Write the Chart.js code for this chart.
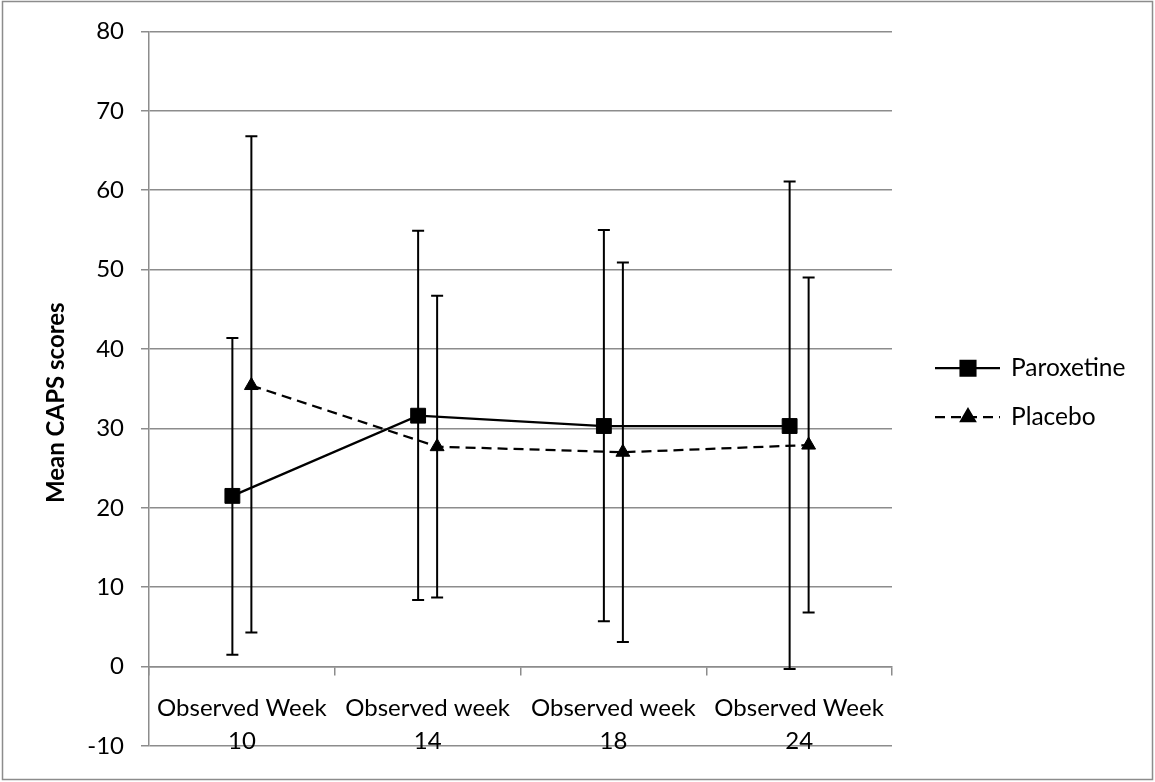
<!DOCTYPE html>
<html>
<head>
<meta charset="utf-8">
<script src="https://cdn.jsdelivr.net/npm/chart.js@4.4.0/dist/chart.umd.min.js"></script>
<style>
    html, body { margin: 0; padding: 0; background: #fff; }
    #wrap { width: 1155px; height: 782px; }
</style>
</head>
<body>
<div id="wrap"><canvas id="capsChart" width="1155" height="782"></canvas></div>
<script>
// Values
const weekLabels = [['Observed Week', '10'], ['Observed week', '14'], ['Observed week', '18'], ['Observed Week', '24']];
const paroxetineMean = [21.5, 31.6, 30.3, 30.3];
const paroxetineHigh = [41.4, 54.9, 55.0, 61.1];
const paroxetineLow = [1.5, 8.4, 5.7, -0.3];
const placeboMean = [35.4, 27.7, 27.0, 27.9];
const placeboHigh = [66.8, 46.7, 50.9, 49.0];
const placeboLow = [4.3, 8.7, 3.1, 6.8];
const yMin = -10;
const yMax = 80;
const yStep = 10;
const yTitle = 'Mean CAPS scores';

const gridGray = '#8c8c8c';
Chart.defaults.font.family = 'Lato, "Noto Sans", sans-serif';
Chart.defaults.color = '#000';

// white background + outer frame
const frame = {
    id: 'frame',
    beforeDraw(chart) {
        const ctx = chart.ctx;
        ctx.save();
        ctx.fillStyle = '#fff';
        ctx.fillRect(0, 0, chart.width, chart.height);
        ctx.strokeStyle = gridGray;
        ctx.lineWidth = 1.5;
        ctx.strokeRect(2.5, 1.5, chart.width - 5, chart.height - 4);
        ctx.restore();
    }
};

// nudge each series sideways inside its category (Excel style)
const sideShift = {
    id: 'sideShift',
    afterDatasetUpdate(chart, args) {
        const ds = chart.data.datasets[args.index];
        args.meta.data.forEach(pt => { pt.x += ds.xShift || 0; });
    }
};

// vertical error bars with caps
const errorBars = {
    id: 'errorBars',
    beforeDatasetsDraw(chart) {
        const ctx = chart.ctx;
        const yScale = chart.scales.y;
        ctx.save();
        ctx.strokeStyle = '#000';
        ctx.lineWidth = 2;
        chart.data.datasets.forEach((ds, i) => {
            const meta = chart.getDatasetMeta(i);
            meta.data.forEach((pt, j) => {
                const x = pt.x;
                const yHi = yScale.getPixelForValue(ds.errHigh[j]);
                const yLo = yScale.getPixelForValue(ds.errLow[j]);
                ctx.beginPath();
                ctx.moveTo(x, yHi); ctx.lineTo(x, yLo);
                ctx.moveTo(x - 6, yHi); ctx.lineTo(x + 6, yHi);
                ctx.moveTo(x - 6, yLo); ctx.lineTo(x + 6, yLo);
                ctx.stroke();
            });
        });
        ctx.restore();
    }
};

// y title sits a little below the plot centre in the original
const yTitleText = {
    id: 'yTitleText',
    afterDraw(chart) {
        const ctx = chart.ctx;
        const area = chart.chartArea;
        ctx.save();
        ctx.translate(56, (area.top + area.bottom) / 2 + 14);
        ctx.rotate(-Math.PI / 2);
        ctx.fillStyle = '#000';
        ctx.font = 'bold 24px Lato';
        ctx.textAlign = 'center';
        ctx.textBaseline = 'middle';
        ctx.fillText(yTitle, 0, 0);
        ctx.restore();
    }
};

// legend on the right: line sample with marker in the middle
const sideLegend = {
    id: 'sideLegend',
    afterDraw(chart) {
        const ctx = chart.ctx;
        const area = chart.chartArea;
        const midY = (area.top + area.bottom) / 2 + 4;
        chart.data.datasets.forEach((ds, i) => {
            const y = midY + (i - 0.5) * 49;
            const x0 = area.right + 43;
            const x1 = x0 + 65;
            ctx.save();
            ctx.strokeStyle = ds.borderColor;
            ctx.lineWidth = ds.borderWidth;
            ctx.setLineDash(ds.borderDash || []);
            ctx.beginPath();
            ctx.moveTo(x0, y);
            ctx.lineTo(x1, y);
            ctx.stroke();
            ctx.setLineDash([]);
            ctx.fillStyle = ds.pointBackgroundColor;
            ctx.strokeStyle = ds.pointBorderColor;
            Chart.helpers.drawPoint(ctx, { pointStyle: ds.pointStyle, radius: ds.pointRadius, borderWidth: 1, rotation: 0 }, x0 + 33, y);
            ctx.fillStyle = '#000';
            ctx.font = '24.5px Lato';
            ctx.textBaseline = 'middle';
            ctx.fillText(ds.label, x1 + 11, y);
            ctx.restore();
        });
    }
};

const ctx = document.getElementById('capsChart').getContext('2d');

new Chart(ctx, {
    type: 'line',
    data: {
        labels: weekLabels,
        datasets: [
            {
                label: 'Paroxetine',
                data: paroxetineMean,
                errHigh: paroxetineHigh,
                errLow: paroxetineLow,
                xShift: -9.5,
                borderColor: '#000',
                borderWidth: 2.25,
                pointStyle: 'rect',
                pointRadius: 10.5,
                pointBackgroundColor: '#000',
                pointBorderColor: '#000',
                pointBorderWidth: 1,
                tension: 0
            },
            {
                label: 'Placebo',
                data: placeboMean,
                errHigh: placeboHigh,
                errLow: placeboLow,
                xShift: 9.5,
                borderColor: '#000',
                borderWidth: 2.25,
                borderDash: [10, 6],
                pointStyle: 'triangle',
                pointRadius: 8,
                pointBackgroundColor: '#000',
                pointBorderColor: '#000',
                pointBorderWidth: 1,
                tension: 0
            }
        ]
    },
    options: {
        responsive: false,
        animation: false,
        events: [],
        layout: {
            padding: { left: 0, top: 31, right: 263, bottom: 36 }
        },
        plugins: {
            legend: { display: false },
            tooltip: { enabled: false }
        },
        scales: {
            x: {
                type: 'category',
                position: { y: 0 },
                offset: true,
                grid: {
                    offset: true,
                    drawOnChartArea: false,
                    drawTicks: true,
                    tickLength: 8,
                    color: gridGray,
                    lineWidth: 1.5
                },
                border: { display: true, color: gridGray, width: 1.5 },
                ticks: {
                    autoSkip: false,
                    maxRotation: 0,
                    padding: 17,
                    font: { size: 24, lineHeight: 1.38 }
                }
            },
            y: {
                min: yMin,
                max: yMax,
                afterFit(scale) { scale.width = 149; },
                grid: {
                    color: gridGray,
                    lineWidth: 1.5,
                    tickLength: 8
                },
                border: { display: true, color: gridGray, width: 1.5 },
                ticks: {
                    stepSize: yStep,
                    padding: 17,
                    font: { size: 24 }
                }
            }
        }
    },
    plugins: [frame, sideShift, errorBars, yTitleText, sideLegend]
});
</script>
</body>
</html>
